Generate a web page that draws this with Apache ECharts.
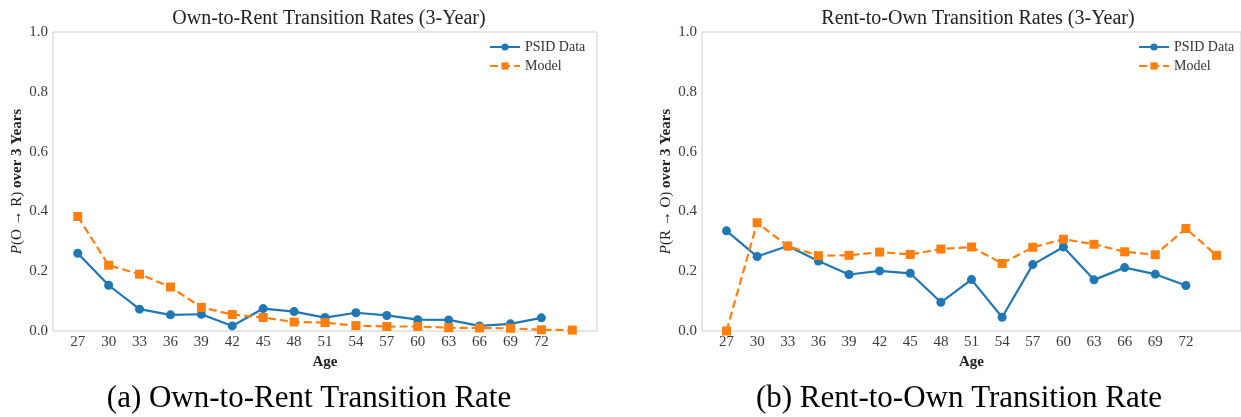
<!DOCTYPE html>
<html>
<head>
<meta charset="utf-8">
<script src="https://cdn.jsdelivr.net/npm/echarts@6/dist/echarts.min.js"></script>
<style>
html,body{margin:0;padding:0;background:#fff;}
#chart{width:1241px;height:417px;}
</style>
</head>
<body>
<div id="chart"></div>
<script>
// Ages
const agesData = [27,30,33,36,39,42,45,48,51,54,57,60,63,66,69,72];
const agesModel = [27,30,33,36,39,42,45,48,51,54,57,60,63,66,69,72,75];
const tickAges = [27,30,33,36,39,42,45,48,51,54,57,60,63,66,69,72];

// Own-to-Rent
const o2rPSID = [0.260,0.153,0.073,0.054,0.056,0.017,0.075,0.065,0.045,0.061,0.052,0.038,0.037,0.017,0.024,0.044];
const o2rModel = [0.383,0.220,0.190,0.147,0.079,0.055,0.045,0.030,0.028,0.018,0.015,0.015,0.011,0.010,0.009,0.004,0.003];

// Rent-to-Own
const r2oPSID = [0.335,0.249,0.284,0.234,0.189,0.201,0.193,0.096,0.172,0.046,0.222,0.281,0.171,0.212,0.190,0.152];
const r2oModel = [0.000,0.362,0.284,0.252,0.253,0.264,0.256,0.274,0.281,0.226,0.280,0.307,0.290,0.265,0.255,0.343,0.253];

const serif = '"Liberation Serif", "DejaVu Serif", serif';
const blue = '#1f77b4', orange = '#ff7f0e';

function pairs(xs, ys){ return xs.map((x,i)=>[x, ys[i]]); }

function xAxis(gi){
  return {
    gridIndex: gi, type: 'value', min: 24.6, max: 77.4,
    name: 'Age', nameLocation: 'middle', nameGap: 20,
    nameTextStyle: {fontFamily: serif, fontWeight: 'bold', fontSize: 15, color: '#222'},
    axisLine: {show: false}, axisTick: {show: false}, splitLine: {show: false},
    axisLabel: {customValues: tickAges, fontFamily: serif, fontSize: 15, color: '#3a3a3a', margin: 4}
  };
}
function yAxis(gi, nm){
  return {
    gridIndex: gi, type: 'value', min: 0, max: 1, interval: 0.2,
    name: nm, nameLocation: 'middle', nameGap: 28,
    nameTextStyle: {
      fontFamily: serif, fontSize: 15, color: '#222',
      rich: {
        i: {fontFamily: serif, fontStyle: 'italic', fontSize: 15, color: '#222'},
        b: {fontFamily: serif, fontWeight: 'bold', fontSize: 15, color: '#222'}
      }
    },
    axisLine: {show: false}, axisTick: {show: false}, splitLine: {show: false},
    axisLabel: {formatter: v => v.toFixed(1), fontFamily: serif, fontSize: 15, color: '#3a3a3a', margin: 5}
  };
}
function lineSeries(name, gi, xs, ys, isModel){
  return {
    name: name, type: 'line', xAxisIndex: gi, yAxisIndex: gi,
    data: pairs(xs, ys),
    symbol: isModel ? 'rect' : 'circle',
    symbolSize: 9,
    lineStyle: {color: isModel ? orange : blue, width: 2.2, type: isModel ? [8,4] : 'solid'},
    itemStyle: {color: isModel ? orange : blue},
    animation: false
  };
}

const chart = echarts.init(document.getElementById('chart'));
chart.setOption({
  animation: false,
  title: [
    {text: 'Own-to-Rent Transition Rates (3-Year)', left: 324, top: 4, textAlign: 'center',
     textStyle: {fontFamily: serif, fontWeight: 'normal', fontSize: 20, color: '#222'}},
    {text: 'Rent-to-Own Transition Rates (3-Year)', left: 973, top: 4, textAlign: 'center',
     textStyle: {fontFamily: serif, fontWeight: 'normal', fontSize: 20, color: '#222'}},
    {text: '(a) Own-to-Rent Transition Rate', left: 304, top: 378, textAlign: 'center',
     textStyle: {fontFamily: serif, fontWeight: 'normal', fontSize: 31, color: '#000'}},
    {text: '(b) Rent-to-Own Transition Rate', left: 954, top: 378, textAlign: 'center',
     textStyle: {fontFamily: serif, fontWeight: 'normal', fontSize: 31, color: '#000'}}
  ],
  grid: [
    {left: 53, top: 32, width: 544, height: 299, show: true, borderColor: '#cccccc', borderWidth: 1, backgroundColor: '#fff'},
    {left: 702, top: 32, width: 544, height: 299, show: true, borderColor: '#cccccc', borderWidth: 1, backgroundColor: '#fff'}
  ],
  legend: [
    {left: 484, top: 35, orient: 'vertical', itemWidth: 30, itemHeight: 9, itemGap: 5,
     data: [{name: 'PSID Data'}, {name: 'Model'}],
     textStyle: {fontFamily: serif, fontSize: 14, color: '#333'}},
    {left: 1133, top: 35, orient: 'vertical', itemWidth: 30, itemHeight: 9, itemGap: 5,
     data: [{name: 'PSID Data '}, {name: 'Model '}],
     textStyle: {fontFamily: serif, fontSize: 14, color: '#333'},
     formatter: n => n.trim()}
  ],
  xAxis: [xAxis(0), xAxis(1)],
  yAxis: [yAxis(0, '{i|P}(O → R){b| over 3 Years}'), yAxis(1, '{i|P}(R → O){b| over 3 Years}')],
  series: [
    lineSeries('PSID Data', 0, agesData, o2rPSID, false),
    lineSeries('Model', 0, agesModel, o2rModel, true),
    lineSeries('PSID Data ', 1, agesData, r2oPSID, false),
    lineSeries('Model ', 1, agesModel, r2oModel, true)
  ]
});
</script>
</body>
</html>
